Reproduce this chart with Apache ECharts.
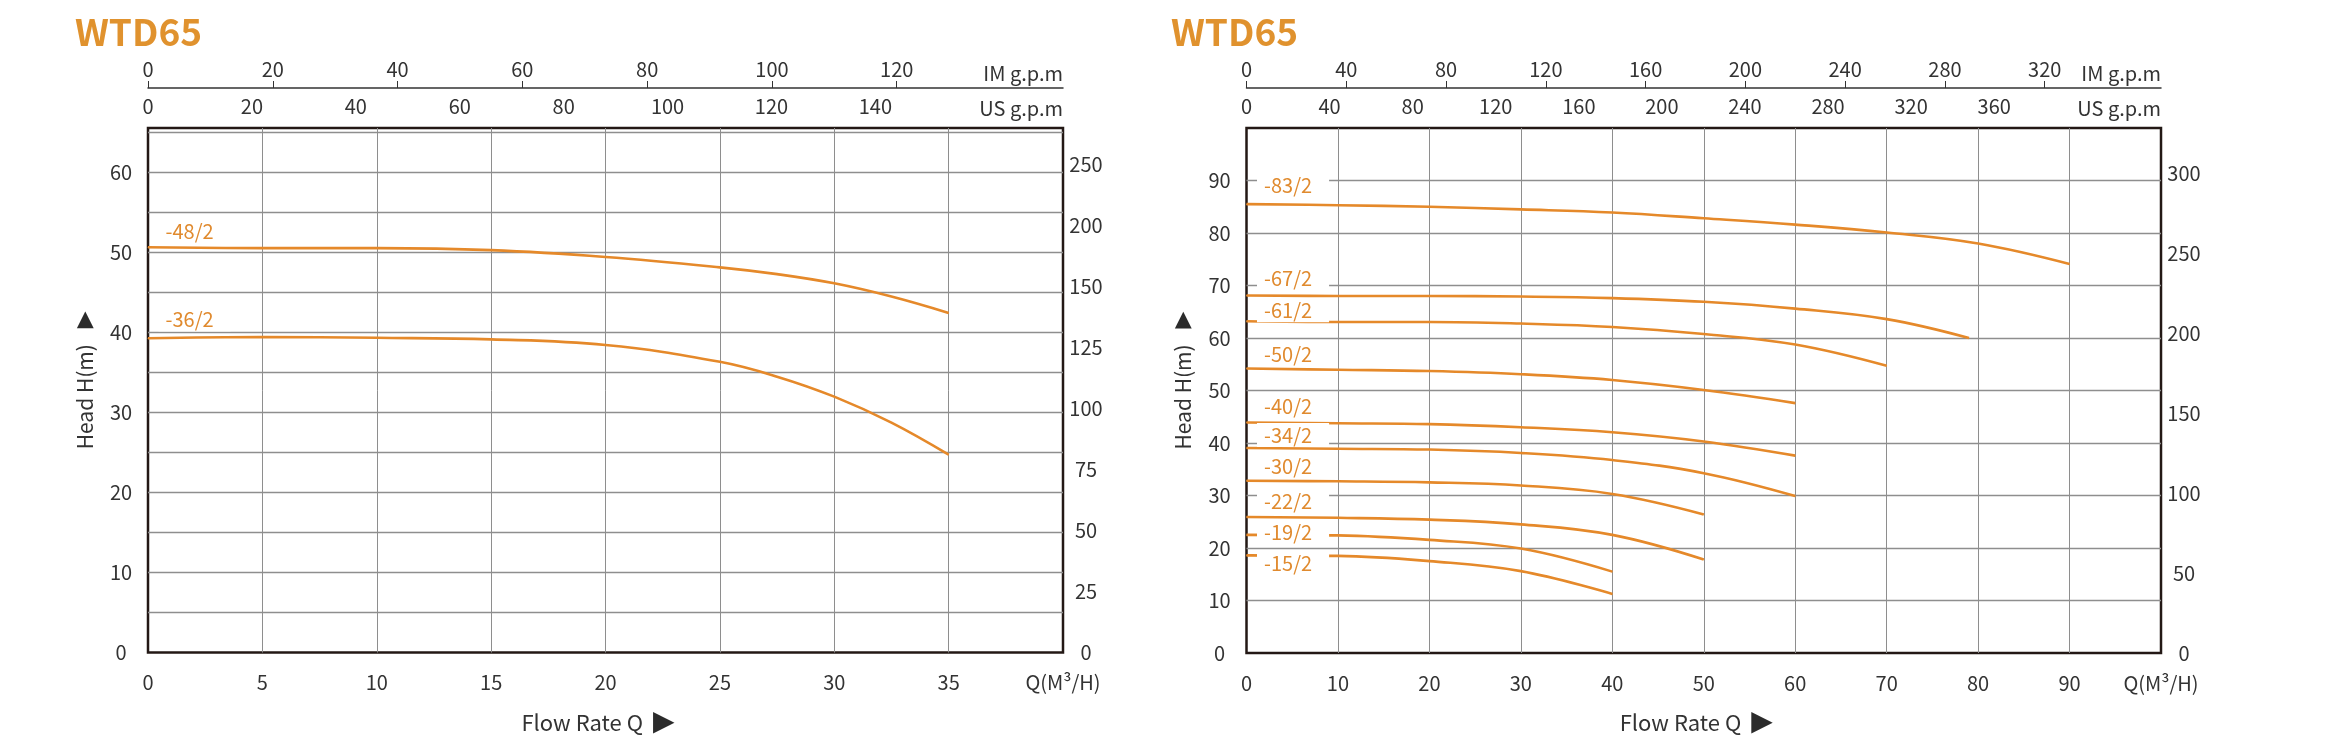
<!DOCTYPE html>
<html lang="en">
<head>
<meta charset="UTF-8">
<title>WTD65</title>
<script src="https://cdn.jsdelivr.net/npm/echarts@6/dist/echarts.min.js"></script>
<style>
    html, body { margin: 0; padding: 0; background: #fff; }
    #chart { width: 2340px; height: 746px; }
</style>
</head>
<body>
<div id="chart"></div>
<script>
    // unit conversion for the secondary axes
    const IM_PER_M3H = 3.6662;
    const US_PER_M3H = 4.4029;
    const FT_PER_M = 3.2808;

    // ---- left chart ----
    const leftQLabels = ['0', '5', '10', '15', '20', '25', '30', '35', 'Q(M³/H)'];
    const leftImTicks = [0, 20, 40, 60, 80, 100, 120];
    const leftUsTicks = [0, 20, 40, 60, 80, 100, 120, 140];
    const leftHeadTicks = [0, 10, 20, 30, 40, 50, 60];
    const leftFtTicks = [0, 25, 50, 75, 100, 125, 150, 175, 200];
    const leftFtLabels = ['0', '25', '50', '75', '100', '125', '150', '200', '250'];

    const leftFlow = [0, 5, 10, 15, 20, 25, 27.5, 30, 32.5, 35];
    const head48 = [50.6, 50.5, 50.5, 50.25, 49.4, 48.1, 47.25, 46.1, 44.45, 42.4];
    const head36 = [39.25, 39.4, 39.3, 39.1, 38.4, 36.3, 34.45, 31.95, 28.7, 24.7];

    // ---- right chart ----
    const rightQLabels = ['0', '10', '20', '30', '40', '50', '60', '70', '80', '90', 'Q(M³/H)'];
    const rightImTicks = [0, 40, 80, 120, 160, 200, 240, 280, 320];
    const rightUsTicks = [0, 40, 80, 120, 160, 200, 240, 280, 320, 360];
    const rightHeadTicks = [0, 10, 20, 30, 40, 50, 60, 70, 80, 90];
    const rightFtTicks = [0, 50, 100, 150, 200, 250, 300];

    const flow90 = [0, 10, 20, 30, 40, 50, 60, 70, 80, 90];
    const flow79 = [0, 10, 20, 30, 40, 50, 60, 70, 79];
    const flow70 = [0, 10, 20, 30, 40, 50, 60, 70];
    const flow60 = [0, 10, 20, 30, 40, 50, 60];
    const flow50 = [0, 10, 20, 30, 40, 50];
    const flow40 = [0, 10, 20, 30, 40];

    const head83 = [85.5, 85.3, 85.0, 84.5, 83.9, 82.8, 81.6, 80.1, 78.0, 74.1];
    const head67 = [68.1, 68.0, 68.0, 67.9, 67.6, 66.9, 65.6, 63.6, 60.0];
    const head61 = [63.2, 63.06, 63.06, 62.75, 62.1, 60.75, 58.75, 54.7];
    const head50 = [54.2, 53.95, 53.7, 53.1, 52.0, 50.1, 47.6];
    const head40 = [43.9, 43.75, 43.6, 43.0, 42.06, 40.3, 37.6];
    const head34 = [39.06, 38.9, 38.75, 38.1, 36.75, 34.25, 29.9];
    const head30 = [32.8, 32.7, 32.5, 31.9, 30.3, 26.4];
    const head22 = [25.9, 25.75, 25.4, 24.5, 22.5, 17.8];
    const head19 = [22.5, 22.4, 21.55, 19.9, 15.5];
    const head15 = [18.6, 18.5, 17.5, 15.6, 11.25];

    const FONT = '"Noto Sans CJK SC", "Noto Sans", sans-serif';
    const TEXT = '#333333';
    const ORANGE = '#E5892A';
    const GRID_LINE = '#8e8e8e';

    let myChart = echarts.init(document.getElementById('chart'));

    function lineSeries(name, flows, heads, xIdx, yIdx, labelDy) {
        let data = flows.map(function(q, i) {
            if (i > 0) return [q, heads[i]];
            return {
                value: [q, heads[i]],
                label: {
                    show: true,
                    formatter: name,
                    position: 'right',
                    distance: 10,
                    offset: [0, labelDy],
                    color: '#E08A2E',
                    fontSize: 20,
                    fontFamily: FONT,
                    backgroundColor: '#fff',
                    padding: [2, 17, 2, 7]
                }
            };
        });
        return {
            name: name,
            type: 'line',
            xAxisIndex: xIdx,
            yAxisIndex: yIdx,
            data: data,
            smooth: 0.4,
            symbol: 'circle',
            symbolSize: 1,
            showSymbol: true,
            itemStyle: { color: ORANGE },
            lineStyle: { color: ORANGE, width: 2.6 },
            silent: true,
            animation: false
        };
    }

    function labelStyle(margin) {
        return { color: TEXT, fontSize: 20, fontFamily: FONT, margin: margin };
    }

    function headName() {
        return {
            name: '{a|Head H(m)}{t|▶}',
            nameLocation: 'middle',
            nameRotate: 90,
            nameGap: 52,
            nameTextStyle: {
                padding: [0, 0, 0, 20],
                rich: {
                    a: { fontSize: 21, color: TEXT, fontFamily: FONT },
                    t: { fontSize: 22, color: '#2b2b2b', fontFamily: 'DejaVu Sans', padding: [0, 0, 0, 16] }
                }
            }
        };
    }

    function flowName() {
        return {
            name: '{a|Flow Rate Q}{t|▶}',
            nameLocation: 'middle',
            nameGap: 56,
            nameTextStyle: {
                padding: [0, 15, 0, 0],
                rich: {
                    a: { fontSize: 22, color: TEXT, fontFamily: FONT },
                    t: { fontSize: 28, color: '#2b2b2b', fontFamily: 'DejaVu Sans', padding: [0, 0, 0, 10] }
                }
            }
        };
    }

    // x axes for one grid: Q at bottom, IM g.p.m and US g.p.m on top
    function xAxes(gridIdx, qMax, qInterval, qLabels, imTicks, usTicks) {
        let flowAxis = Object.assign({
            type: 'value', gridIndex: gridIdx, position: 'bottom',
            min: 0, max: qMax, interval: qInterval,
            axisLine: { show: false, onZero: false }, axisTick: { show: false },
            axisLabel: Object.assign(labelStyle(20), {
                formatter: function(v) { return qLabels[Math.round(v / qInterval)]; }
            }),
            splitLine: { show: true, showMinLine: false, showMaxLine: false, lineStyle: { color: GRID_LINE, width: 1 } }
        }, flowName());
        let imAxis = {
            type: 'value', gridIndex: gridIdx, position: 'top', offset: 40,
            min: 0, max: qMax * IM_PER_M3H,
            axisLine: { show: true, onZero: false, lineStyle: { color: '#333', width: 1.5 } },
            axisTick: { show: true, length: 7, customValues: imTicks, lineStyle: { color: '#333', width: 1 } },
            axisLabel: Object.assign(labelStyle(9), { customValues: imTicks }),
            splitLine: { show: false },
            name: 'IM g.p.m', nameLocation: 'end', nameGap: 0,
            nameTextStyle: { color: TEXT, fontSize: 20, fontFamily: FONT, align: 'right', verticalAlign: 'bottom', padding: [0, 0, 5, 0] }
        };
        let usAxis = {
            type: 'value', gridIndex: gridIdx, position: 'top', offset: 0,
            min: 0, max: qMax * US_PER_M3H,
            axisLine: { show: false, onZero: false }, axisTick: { show: false },
            axisLabel: Object.assign(labelStyle(12), { customValues: usTicks }),
            splitLine: { show: false },
            name: 'US g.p.m', nameLocation: 'end', nameGap: 0,
            nameTextStyle: { color: TEXT, fontSize: 20, fontFamily: FONT, align: 'right', verticalAlign: 'bottom', padding: [0, 0, 10, 0] }
        };
        return [flowAxis, imAxis, usAxis];
    }

    function yAxes(gridIdx, hMax, hInterval, headTicks, ftTicks, ftLabels) {
        let headAxis = Object.assign({
            type: 'value', gridIndex: gridIdx, position: 'left',
            min: 0, max: hMax, interval: hInterval,
            axisLine: { show: false, onZero: false }, axisTick: { show: false },
            axisLabel: Object.assign(labelStyle(27), { customValues: headTicks, align: 'center' }),
            splitLine: { show: true, showMinLine: false, showMaxLine: false, lineStyle: { color: GRID_LINE, width: 1.4 } }
        }, headName());
        let ftAxis = {
            type: 'value', gridIndex: gridIdx, position: 'right',
            min: 0, max: hMax * FT_PER_M,
            axisLine: { show: false, onZero: false }, axisTick: { show: false },
            axisLabel: Object.assign(labelStyle(23), {
                customValues: ftTicks,
                align: 'center',
                formatter: function(v) {
                    let i = ftTicks.indexOf(v);
                    return i < 0 ? '' : ftLabels[i];
                }
            }),
            splitLine: { show: false }
        };
        return [headAxis, ftAxis];
    }

    let gridStyle = { show: true, borderColor: '#231815', borderWidth: 2.5, backgroundColor: 'transparent' };

    let chartOption = {
        animation: false,
        backgroundColor: '#fff',
        textStyle: { fontFamily: FONT },
        title: [
            { text: 'WTD65', left: 70, top: 8, textStyle: { color: '#E0922E', fontSize: 37, fontWeight: 'bold', fontFamily: FONT } },
            { text: 'WTD65', left: 1166, top: 8, textStyle: { color: '#E0922E', fontSize: 37, fontWeight: 'bold', fontFamily: FONT } }
        ],
        grid: [
            Object.assign({ left: 148, top: 128, width: 915, height: 524.5 }, gridStyle),
            Object.assign({ left: 1246.5, top: 128, width: 914.5, height: 525 }, gridStyle)
        ],
        xAxis: xAxes(0, 40, 5, leftQLabels, leftImTicks, leftUsTicks)
            .concat(xAxes(1, 100, 10, rightQLabels, rightImTicks, rightUsTicks)),
        yAxis: yAxes(0, 65.5, 5, leftHeadTicks, leftFtTicks, leftFtLabels)
            .concat(yAxes(1, 100, 10, rightHeadTicks, rightFtTicks, rightFtTicks.map(String))),
        series: [
            lineSeries('-48/2', leftFlow, head48, 0, 0, -16),
            lineSeries('-36/2', leftFlow, head36, 0, 0, -19),
            lineSeries('-83/2', flow90, head83, 3, 2, -19),
            lineSeries('-67/2', flow79, head67, 3, 2, -17),
            lineSeries('-61/2', flow70, head61, 3, 2, -11),
            lineSeries('-50/2', flow60, head50, 3, 2, -14),
            lineSeries('-40/2', flow60, head40, 3, 2, -16),
            lineSeries('-34/2', flow60, head34, 3, 2, -13),
            lineSeries('-30/2', flow50, head30, 3, 2, -14),
            lineSeries('-22/2', flow50, head22, 3, 2, -16),
            lineSeries('-19/2', flow40, head19, 3, 2, -2),
            lineSeries('-15/2', flow40, head15, 3, 2, 8)
        ]
    };

    myChart.setOption(chartOption);
</script>
</body>
</html>
